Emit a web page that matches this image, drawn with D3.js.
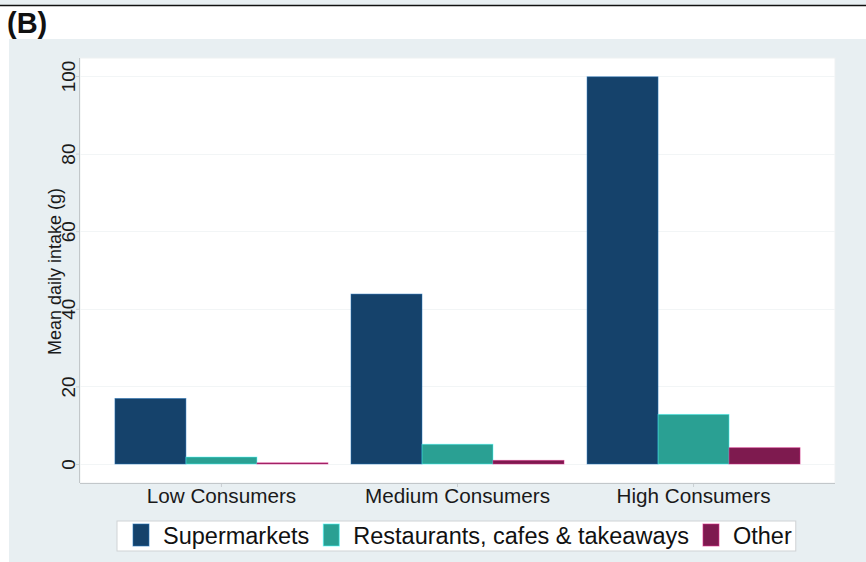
<!DOCTYPE html>
<html>
<head>
<meta charset="utf-8">
<script src="https://cdn.jsdelivr.net/npm/d3@7"></script>
<style>
  html, body { margin: 0; padding: 0; background: #ffffff; }
  svg { display: block; font-family: "Liberation Sans", Arial, Helvetica, sans-serif; }
</style>
</head>
<body>
<svg id="chart" width="866" height="562"></svg>
<script>
// Consumer groups and mean daily intake (g) by purchase source
const groups = ["Low Consumers", "Medium Consumers", "High Consumers"];
const sources = ["Supermarkets", "Restaurants, cafes & takeaways", "Other"];
const supermarkets = [16.9, 43.8, 99.8];
const restaurants = [1.8, 5.1, 12.8];
const other = [0.3, 0.95, 4.2];
const yTicks = [0, 20, 40, 60, 80, 100];
const colors = ["#15426b", "#2aa093", "#7e1a4f"];
const yTitle = "Mean daily intake (g)";
const panelLabel = "(B)";

const seriesValues = [supermarkets, restaurants, other];

const svg = d3.select("#chart");
const W = 866, H = 562;

// header strip and rule
svg.append("rect").attr("x", 0).attr("y", 0).attr("width", W).attr("height", 5).attr("fill", "#e8eff2");
svg.append("line").attr("x1", 0).attr("x2", W).attr("y1", 5.5).attr("y2", 5.5)
  .attr("stroke", "#111").attr("stroke-width", 1.5);

// panel label
svg.append("text").attr("x", 7).attr("y", 33)
  .attr("font-size", 29).attr("font-weight", "bold").attr("fill", "#111")
  .text(panelLabel);

// graph region background
svg.append("rect").attr("x", 9).attr("y", 39).attr("width", W - 9).attr("height", H - 39)
  .attr("fill", "#e8eff2");

// plot area
const plot = { left: 80, right: 835, top: 58, bottom: 483 };
svg.append("rect")
  .attr("x", plot.left).attr("y", plot.top)
  .attr("width", plot.right - plot.left).attr("height", plot.bottom - plot.top)
  .attr("fill", "#ffffff").attr("stroke", "#eef1f2");

const y = d3.scaleLinear().domain([0, 100]).range([464, 76]);
const x0 = d3.scaleBand().domain(groups).range([plot.left, plot.right])
  .paddingInner(0.0975).paddingOuter(0.148);
const x1 = d3.scaleBand().domain(sources).range([0, x0.bandwidth()]).padding(0);

// grid lines
svg.append("g").selectAll("line").data(yTicks).join("line")
  .attr("x1", plot.left).attr("x2", plot.right)
  .attr("y1", d => Math.round(y(d)) + 0.5).attr("y2", d => Math.round(y(d)) + 0.5)
  .attr("stroke", "#f2f5f6").attr("stroke-width", 1);

// bars
const rows = [];
groups.forEach((g, gi) => {
  sources.forEach((s, si) => rows.push({ g, s, si, v: seriesValues[si][gi] }));
});
svg.append("g").selectAll("rect").data(rows).join("rect")
  .attr("x", d => x0(d.g) + x1(d.s))
  .attr("y", d => y(d.v))
  .attr("width", x1.bandwidth())
  .attr("height", d => y(0) - y(d.v))
  .attr("fill", d => colors[d.si])
  .attr("stroke", d => d3.color(colors[d.si]).brighter(1.6))
  .attr("stroke-opacity", 0.6)
  .attr("stroke-width", 0.8);

// y axis
const yAxis = svg.append("g").attr("transform", `translate(${plot.left},0)`)
  .call(d3.axisLeft(y).tickValues(yTicks).tickSize(4).tickPadding(6));
yAxis.select(".domain").remove();
yAxis.selectAll(".tick line").attr("stroke", "#c9cfd2");
yAxis.selectAll(".tick text")
  .attr("font-size", 19).attr("fill", "#1a1a1a")
  .attr("transform", "rotate(-90)")
  .attr("x", 0).attr("y", -5)
  .attr("dy", 0)
  .attr("text-anchor", "middle");
svg.append("line").attr("x1", plot.left - 0.5).attr("x2", plot.left - 0.5)
  .attr("y1", plot.top).attr("y2", plot.bottom).attr("stroke", "#c2c7ca");

// x axis
const xAxis = svg.append("g").attr("transform", `translate(0,${plot.bottom})`)
  .call(d3.axisBottom(x0).tickSize(4).tickPadding(6));
xAxis.select(".domain").remove();
xAxis.selectAll(".tick line").attr("stroke", "#c9cfd2");
xAxis.selectAll(".tick text")
  .attr("font-size", 20.7).attr("fill", "#1a1a1a")
  .attr("y", 19.5).attr("dy", 0);
svg.append("line").attr("x1", plot.left).attr("x2", plot.right)
  .attr("y1", plot.bottom + 0.5).attr("y2", plot.bottom + 0.5).attr("stroke", "#c2c7ca");

// y axis title
svg.append("text")
  .attr("transform", `translate(60.5,${(plot.top + plot.bottom) / 2 + 1}) rotate(-90)`)
  .attr("text-anchor", "middle")
  .attr("font-size", 18).attr("fill", "#1a1a1a")
  .text(yTitle);

// legend
const legend = svg.append("g");
const legendBox = legend.append("rect")
  .attr("y", 521).attr("height", 30)
  .attr("fill", "#ffffff").attr("stroke", "#cfd3d5");
let cx = 133;
sources.forEach((s, i) => {
  legend.append("rect").attr("x", cx).attr("y", 524).attr("width", 16).attr("height", 22)
    .attr("fill", colors[i]).attr("stroke", d3.color(colors[i]).brighter(1.6)).attr("stroke-opacity", 0.6);
  const t = legend.append("text").attr("x", cx + 30).attr("y", 543.5)
    .attr("font-size", 23.5).attr("fill", "#111").text(s);
  const w = t.node().getComputedTextLength();
  cx = cx + 30 + w + 14;
});
legendBox.attr("x", 117).attr("width", cx - 14 + 4 - 117);
</script>
</body>
</html>
